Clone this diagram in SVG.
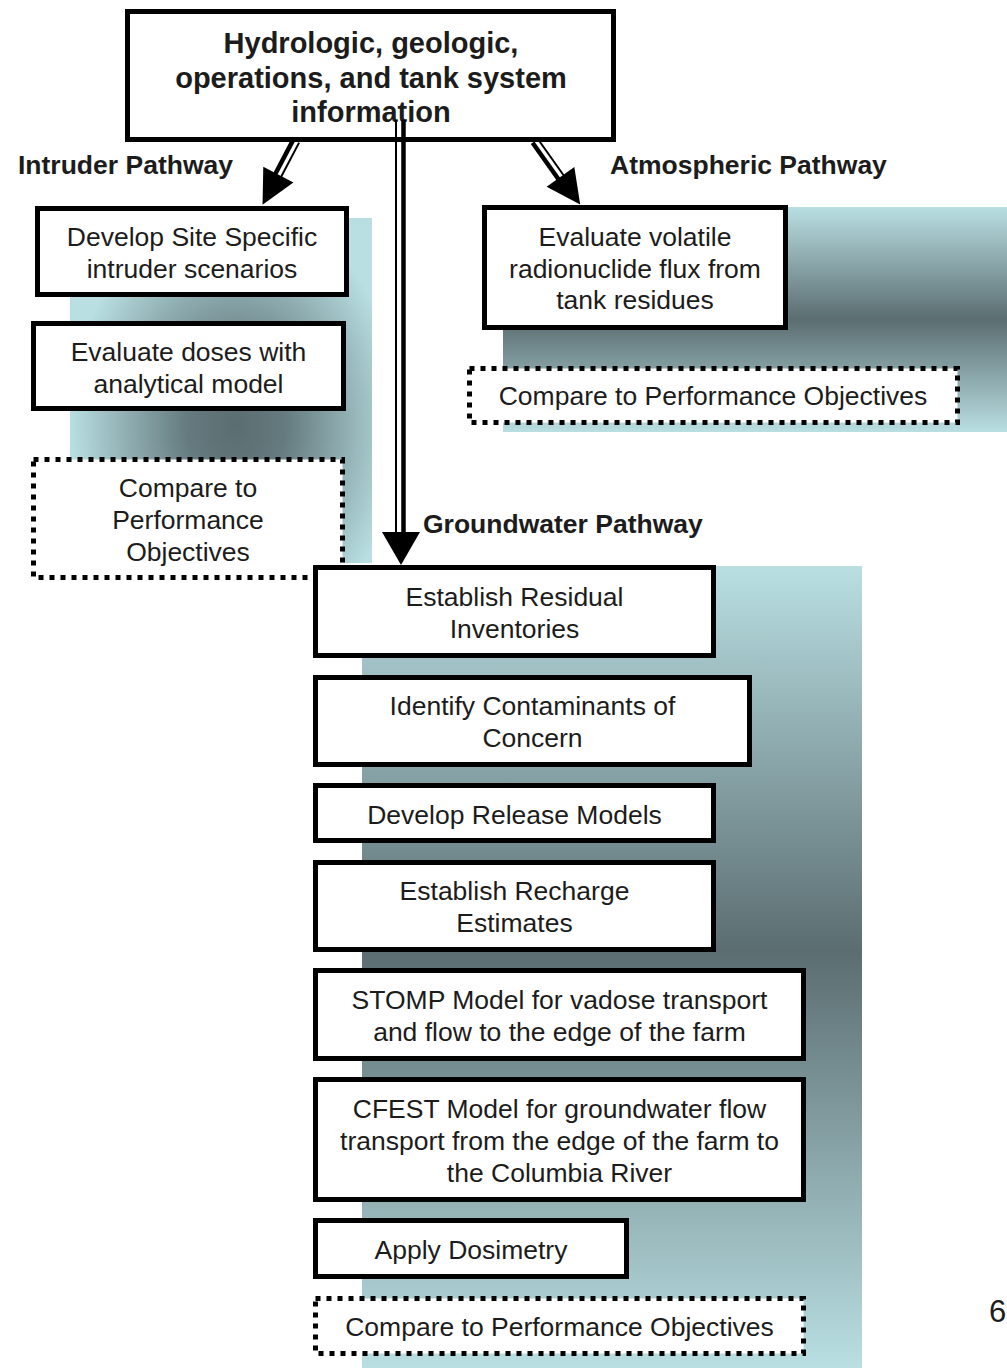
<svg xmlns="http://www.w3.org/2000/svg" width="1007" height="1368" viewBox="0 0 1007 1368">
  <defs>
    <radialGradient id="gIntr" cx="0.55" cy="0.6" r="0.55" gradientTransform="translate(0.55 0.6) scale(1 1.15) translate(-0.55 -0.6)">
      <stop offset="0" stop-color="#5b6d71"/>
      <stop offset="0.3" stop-color="#657b7f"/>
      <stop offset="1" stop-color="#b9dfe2"/>
    </radialGradient>
    <linearGradient id="gAtm" x1="0" y1="0" x2="0" y2="1">
      <stop offset="0" stop-color="#b9dfe2"/>
      <stop offset="0.5" stop-color="#5b6d71"/>
      <stop offset="1" stop-color="#b9dfe2"/>
    </linearGradient>
    <linearGradient id="gGw" x1="0" y1="0" x2="0" y2="1">
      <stop offset="0" stop-color="#b9dfe2"/>
      <stop offset="0.48" stop-color="#5b6d71"/>
      <stop offset="1" stop-color="#b9dfe2"/>
    </linearGradient>
    <style>
      .box { fill: #ffffff; stroke: #000000; stroke-width: 5; }
      .dot { fill: #ffffff; stroke: #000000; stroke-width: 5; stroke-dasharray: 5 6; }
      .t { font-family: "Liberation Sans", Arial, sans-serif; font-size: 26.5px; fill: #1c1c1c; text-anchor: middle; }
      .b { font-family: "Liberation Sans", Arial, sans-serif; font-size: 26.5px; font-weight: bold; fill: #1c1c1c; }
      .title { font-family: "Liberation Sans", Arial, sans-serif; font-size: 29px; font-weight: bold; fill: #1c1c1c; text-anchor: middle; }
      .thick { stroke: #000; stroke-width: 4.5; fill: none; }
      .thin { stroke: #000; stroke-width: 2; fill: none; }
    </style>
  </defs>

  <rect width="1007" height="1368" fill="#ffffff"/>

  <!-- background bands -->
  <g id="backgrounds">
    <rect x="70" y="218" width="302" height="345" fill="url(#gIntr)"/>
    <rect x="503" y="207" width="504" height="225" fill="url(#gAtm)"/>
    <rect x="362" y="566" width="500" height="802" fill="url(#gGw)"/>
  </g>

  <!-- nodes -->
  <g id="node-source">
    <rect class="box" x="127.5" y="11.5" width="486" height="128"/>
    <text class="title" x="371" y="53">Hydrologic, geologic,</text>
    <text class="title" x="371" y="88">operations, and tank system</text>
    <text class="title" x="371" y="122">information</text>
  </g>

  <g id="node-intruder-scenarios">
    <rect class="box" x="37.5" y="208.5" width="309" height="86"/>
    <text class="t" x="192" y="246">Develop Site Specific</text>
    <text class="t" x="192" y="278">intruder scenarios</text>
  </g>
  <g id="node-intruder-doses">
    <rect class="box" x="33.5" y="323.5" width="310" height="85"/>
    <text class="t" x="188.5" y="361">Evaluate doses with</text>
    <text class="t" x="188.5" y="393">analytical model</text>
  </g>
  <g id="node-intruder-compare">
    <rect class="dot" x="33.5" y="459.5" width="309" height="118"/>
    <text class="t" x="188" y="497">Compare to</text>
    <text class="t" x="188" y="529">Performance</text>
    <text class="t" x="188" y="561">Objectives</text>
  </g>

  <g id="node-atm-flux">
    <rect class="box" x="484.5" y="207.5" width="301" height="120"/>
    <text class="t" x="635" y="246">Evaluate volatile</text>
    <text class="t" x="635" y="278">radionuclide flux from</text>
    <text class="t" x="635" y="309">tank residues</text>
  </g>
  <g id="node-atm-compare">
    <rect class="dot" x="469.5" y="368.5" width="488" height="54"/>
    <text class="t" x="713" y="405">Compare to Performance Objectives</text>
  </g>

  <g id="node-gw-inventories">
    <rect class="box" x="315.5" y="567.5" width="398" height="88"/>
    <text class="t" x="514.5" y="606">Establish Residual</text>
    <text class="t" x="514.5" y="638">Inventories</text>
  </g>
  <g id="node-gw-contaminants">
    <rect class="box" x="315.5" y="677.5" width="434" height="87"/>
    <text class="t" x="532.5" y="715">Identify Contaminants of</text>
    <text class="t" x="532.5" y="747">Concern</text>
  </g>
  <g id="node-gw-release">
    <rect class="box" x="315.5" y="785.5" width="398" height="55"/>
    <text class="t" x="514.5" y="824">Develop Release Models</text>
  </g>
  <g id="node-gw-recharge">
    <rect class="box" x="315.5" y="862.5" width="398" height="87"/>
    <text class="t" x="514.5" y="900">Establish Recharge</text>
    <text class="t" x="514.5" y="932">Estimates</text>
  </g>
  <g id="node-gw-stomp">
    <rect class="box" x="315.5" y="970.5" width="488" height="88"/>
    <text class="t" x="559.5" y="1009">STOMP Model for vadose transport</text>
    <text class="t" x="559.5" y="1041">and flow to the edge of the farm</text>
  </g>
  <g id="node-gw-cfest">
    <rect class="box" x="315.5" y="1079.5" width="488" height="120"/>
    <text class="t" x="559.5" y="1118">CFEST Model for groundwater flow</text>
    <text class="t" x="559.5" y="1150">transport from the edge of the farm to</text>
    <text class="t" x="559.5" y="1182">the Columbia River</text>
  </g>
  <g id="node-gw-dosimetry">
    <rect class="box" x="315.5" y="1220.5" width="311" height="56"/>
    <text class="t" x="471" y="1259">Apply Dosimetry</text>
  </g>
  <g id="node-gw-compare">
    <rect class="dot" x="315.5" y="1298.5" width="488" height="55"/>
    <text class="t" x="559.5" y="1336">Compare to Performance Objectives</text>
  </g>

  <!-- connectors -->
  <g id="connectors">
    <!-- intruder pathway arrow -->
    <g transform="translate(296,141) rotate(27.7)">
      <line class="thick" x1="-3" y1="0" x2="-3" y2="40"/>
      <line class="thin" x1="3.5" y1="0" x2="3.5" y2="40"/>
      <polygon points="-17,38 17,38 0,72" fill="#000"/>
    </g>
    <!-- atmospheric pathway arrow -->
    <g transform="translate(535,141) rotate(-35.4)">
      <line class="thick" x1="-3" y1="0" x2="-3" y2="46"/>
      <line class="thin" x1="3.5" y1="0" x2="3.5" y2="46"/>
      <polygon points="-17,44 17,44 0,78" fill="#000"/>
    </g>
    <!-- groundwater pathway arrow -->
    <line class="thin" x1="396" y1="120" x2="396" y2="534"/>
    <line class="thick" x1="403.5" y1="120" x2="403.5" y2="534"/>
    <polygon points="382,532 420,532 401,565" fill="#000"/>
  </g>

  <!-- pathway labels -->
  <g id="labels">
    <text class="b" x="18" y="174">Intruder Pathway</text>
    <text class="b" x="610" y="174">Atmospheric Pathway</text>
    <text class="b" x="423" y="533">Groundwater Pathway</text>
    <text x="989" y="1322" style="font-family: 'Liberation Sans', Arial, sans-serif; font-size: 31px; fill: #1c1c1c;">6</text>
  </g>
</svg>
